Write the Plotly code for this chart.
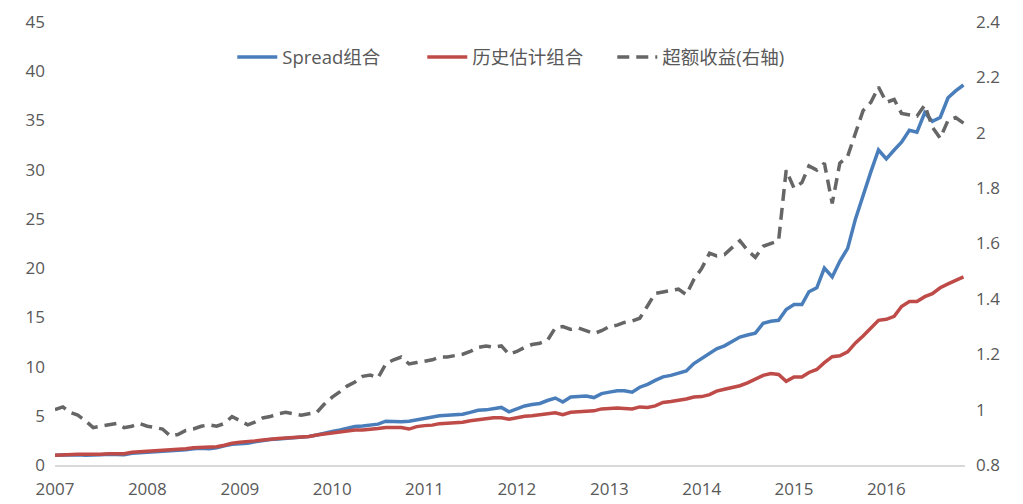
import pandas as pd
import plotly.graph_objects as go

# Monthly values, Jan 2007 - Nov 2016
spread = [1.00, 1.02, 1.05, 1.05, 1.00, 0.98, 1.05, 1.10, 1.10, 1.05, 1.20, 1.25,
          1.25, 1.35, 1.40, 1.40, 1.45, 1.55, 1.65, 1.70, 1.65, 1.75, 1.95, 2.10,
          2.15, 2.20, 2.35, 2.50, 2.60, 2.65, 2.70, 2.75, 2.80, 2.90, 3.05, 3.25,
          3.40, 3.55, 3.75, 3.90, 3.95, 4.05, 4.15, 4.45, 4.40, 4.40, 4.45, 4.60,
          4.70, 4.85, 5.00, 5.05, 5.10, 5.15, 5.35, 5.55, 5.60, 5.70, 5.85, 5.40,
          5.70, 6.00, 6.15, 6.25, 6.55, 6.80, 6.40, 6.90, 6.95, 7.00, 6.85, 7.25,
          7.40, 7.55, 7.55, 7.40, 7.90, 8.20, 8.60, 8.95, 9.10, 9.30, 9.55, 10.30,
          10.80, 11.40, 11.80, 12.10, 12.50, 13.00, 13.20, 13.40, 14.40, 14.60, 14.70, 15.80,
          16.30, 16.30, 17.60, 18.00, 20.00, 19.10, 20.70, 22.00, 25.00, 27.50, 29.80, 32.00,
          31.10, 32.00, 32.80, 34.00, 33.80, 35.80, 34.90, 35.30, 37.30, 38.00, 38.60]

hist = [1.00, 1.05, 1.10, 1.10, 1.08, 1.05, 1.10, 1.15, 1.18, 1.15, 1.30, 1.35,
        1.35, 1.45, 1.50, 1.55, 1.58, 1.65, 1.75, 1.80, 1.78, 1.85, 2.00, 2.20,
        2.30, 2.35, 2.45, 2.55, 2.65, 2.70, 2.75, 2.80, 2.85, 2.90, 3.05, 3.15,
        3.25, 3.35, 3.45, 3.55, 3.55, 3.60, 3.70, 3.80, 3.80, 3.80, 3.65, 3.90,
        4.00, 4.05, 4.20, 4.25, 4.30, 4.35, 4.50, 4.60, 4.75, 4.80, 4.80, 4.65,
        4.80, 4.95, 5.00, 5.10, 5.20, 5.30, 5.10, 5.35, 5.40, 5.45, 5.50, 5.70,
        5.75, 5.80, 5.75, 5.70, 5.90, 5.85, 6.00, 6.35, 6.45, 6.55, 6.70, 6.90,
        6.95, 7.15, 7.50, 7.70, 7.85, 8.05, 8.35, 8.75, 9.10, 9.30, 9.20, 8.50,
        8.95, 8.95, 9.40, 9.70, 10.40, 11.00, 11.10, 11.50, 12.40, 13.10, 13.90, 14.70,
        14.80, 15.10, 16.10, 16.60, 16.60, 17.10, 17.40, 18.00, 18.40, 18.70, 19.10]

excess = [1.00, 1.01, 0.99, 0.98, 0.96, 0.935, 0.94, 0.945, 0.95, 0.935, 0.94, 0.95,
          0.94, 0.935, 0.93, 0.905, 0.91, 0.925, 0.93, 0.94, 0.945, 0.94, 0.95, 0.975,
          0.96, 0.945, 0.955, 0.97, 0.975, 0.985, 0.99, 0.985, 0.98, 0.985, 0.99, 1.02,
          1.045, 1.065, 1.085, 1.10, 1.12, 1.125, 1.115, 1.165, 1.18, 1.19, 1.165, 1.17,
          1.175, 1.18, 1.19, 1.19, 1.195, 1.20, 1.21, 1.225, 1.23, 1.225, 1.23, 1.20,
          1.21, 1.225, 1.235, 1.24, 1.25, 1.295, 1.30, 1.29, 1.295, 1.285, 1.275, 1.285,
          1.30, 1.305, 1.315, 1.32, 1.33, 1.375, 1.42, 1.425, 1.43, 1.435, 1.415, 1.47,
          1.51, 1.565, 1.555, 1.56, 1.585, 1.61, 1.575, 1.55, 1.59, 1.60, 1.61, 1.865,
          1.80, 1.82, 1.88, 1.865, 1.89, 1.745, 1.89, 1.915, 2.00, 2.08, 2.11, 2.165,
          2.11, 2.12, 2.07, 2.065, 2.06, 2.10, 2.02, 1.98, 2.045, 2.055, 2.035]

year_labels = ["2007", "2008", "2009", "2010", "2011", "2012", "2013", "2014", "2015", "2016"]
series_names = ["Spread组合", "历史估计组合", "超额收益(右轴)"]

dates = pd.date_range("2007-01-01", periods=len(spread), freq="MS")
tick_dates = [pd.Timestamp(f"{y}-01-01") for y in year_labels]

FONT = "Century Gothic, Open Sans, Noto Sans CJK SC, sans-serif"
TXT = "#595959"

fig = go.Figure()
fig.add_trace(go.Scatter(x=dates, y=spread, name=series_names[0], mode="lines",
                         line=dict(color="#4A7EBB", width=3.5)))
fig.add_trace(go.Scatter(x=dates, y=hist, name=series_names[1], mode="lines",
                         line=dict(color="#BE4B48", width=3.5)))
fig.add_trace(go.Scatter(x=dates, y=excess, name=series_names[2], mode="lines",
                         yaxis="y2",
                         line=dict(color="#666666", width=3.5, dash="12px,7px")))

# page body has an 8px margin: size the figure so that it fits the 1023x504 window
fig.update_layout(
    width=1015, height=496,
    margin=dict(l=47, r=58, t=14, b=39, autoexpand=False),
    paper_bgcolor="white", plot_bgcolor="white",
    font=dict(family=FONT, color=TXT, size=17),
    showlegend=True,
    legend=dict(orientation="h", x=0.508, xanchor="center", y=0.92, yanchor="middle",
                font=dict(size=18.5, color=TXT), itemwidth=40,
                entrywidth=135, entrywidthmode="pixels",
                bgcolor="rgba(0,0,0,0)"),
    xaxis=dict(type="date", range=["2007-01-01", "2016-11-07"],
               tickvals=tick_dates, ticktext=year_labels, automargin=False,
               showgrid=False, zeroline=False, showline=True, linecolor="#D9D9D9",
               linewidth=1.5, ticks="", tickfont=dict(size=17, color=TXT),
               ticklabelstandoff=8),
    yaxis=dict(range=[0, 45], dtick=5, showgrid=False, zeroline=False, automargin=False,
               ticks="", tickfont=dict(size=17, color=TXT), ticklabelstandoff=9),
    yaxis2=dict(range=[0.8, 2.4], dtick=0.2, overlaying="y", side="right",
                showgrid=False, zeroline=False, ticks="", automargin=False,
                tickfont=dict(size=17, color=TXT), ticklabelstandoff=10),
)

fig.write_html("out.html")
